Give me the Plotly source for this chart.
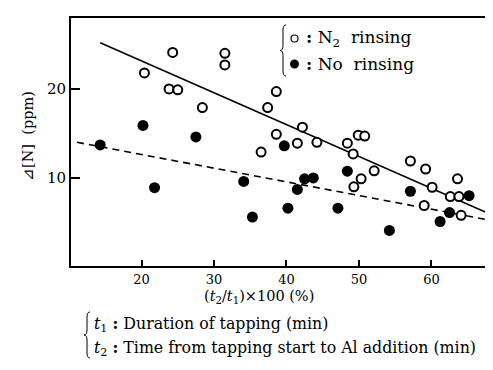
import plotly.graph_objects as go

# ---- data ----
n2_x = [20.4, 24.3, 23.8, 25.0, 28.4, 31.5, 31.5, 36.5, 37.4, 38.6, 38.6, 41.5, 42.2, 44.2,
        48.4, 49.2, 49.3, 49.9, 50.3, 50.8, 52.1, 57.1, 59.0, 59.2, 60.1, 62.6, 63.6, 63.8, 64.1]
n2_y = [21.8, 24.1, 20.0, 19.9, 17.9, 24.0, 22.7, 12.9, 17.9, 19.7, 14.9, 13.9, 15.7, 14.0,
        13.9, 12.7, 9.0, 14.8, 9.9, 14.7, 10.8, 11.9, 6.9, 11.0, 8.95, 7.9, 9.9, 7.9, 5.8]

no_x = [14.3, 20.2, 21.8, 27.5, 34.1, 35.3, 39.7, 40.2, 41.5, 42.5, 43.7, 47.1, 48.4, 54.2,
        57.1, 61.2, 62.5, 65.2]
no_y = [13.7, 15.9, 8.9, 14.6, 9.6, 5.6, 13.6, 6.6, 8.7, 9.9, 10.0, 6.6, 10.75, 4.1,
        8.5, 5.1, 6.1, 8.0]

n2_fit_x = [14.3, 68.7]
n2_fit_y = [25.2, 5.7]
no_fit_x = [11.1, 69.0]
no_fit_y = [14.0, 5.1]

x_ticks = [20, 30, 40, 50, 60]
y_ticks = [10, 20]

# ---- layout geometry (pixels) ----
W, H = 493, 370
ML, MR, MT, MB = 63, 0, 10, 112
PW, PH = W - ML - MR, H - MT - MB
FONT = "DejaVu Serif"


def px(x):
    return (x - ML) / PW


def py(y):
    return (H - MB - y) / PH


def brace(x, y_top, y_bot, w):
    """Left curly brace path in paper coords, from pixel inputs."""
    ym = (y_top + y_bot) / 2
    r = 5
    xm = x + w / 2
    pts = [
        ("M", [(x + w, y_top)]),
        ("Q", [(xm, y_top), (xm, y_top + r)]),
        ("L", [(xm, ym - r)]),
        ("Q", [(xm, ym), (x, ym)]),
        ("Q", [(xm, ym), (xm, ym + r)]),
        ("L", [(xm, y_bot - r)]),
        ("Q", [(xm, y_bot), (x + w, y_bot)]),
    ]
    s = ""
    for cmd, ps in pts:
        s += cmd + " " + " ".join(f"{px(a):.5f},{py(b):.5f}" for a, b in ps) + " "
    return s.strip()


fig = go.Figure()

fig.add_trace(go.Scatter(x=n2_fit_x, y=n2_fit_y, mode="lines",
                         line=dict(color="black", width=1.6), showlegend=False))
fig.add_trace(go.Scatter(x=no_fit_x, y=no_fit_y, mode="lines",
                         line=dict(color="black", width=1.6, dash="7px,5px"), showlegend=False))
fig.add_trace(go.Scatter(x=n2_x, y=n2_y, mode="markers",
                         marker=dict(symbol="circle", size=9, color="white",
                                     line=dict(color="black", width=2)),
                         showlegend=False))
fig.add_trace(go.Scatter(x=no_x, y=no_y, mode="markers",
                         marker=dict(symbol="circle", size=11, color="black",
                                     line=dict(color="black", width=0)),
                         showlegend=False))

shapes = []
# legend brace + markers
shapes.append(dict(type="path", xref="paper", yref="paper", path=brace(272, 17, 68, 6),
                   line=dict(color="black", width=1)))
shapes.append(dict(type="circle", xref="paper", yref="paper",
                   x0=px(283), x1=px(290), y0=py(34), y1=py(27),
                   line=dict(color="black", width=1.2), fillcolor="white"))
shapes.append(dict(type="circle", xref="paper", yref="paper",
                   x0=px(282), x1=px(291), y0=py(60.5), y1=py(51.5),
                   line=dict(color="black", width=0), fillcolor="black"))
# footnote brace
shapes.append(dict(type="path", xref="paper", yref="paper", path=brace(76, 304, 350, 6),
                   line=dict(color="black", width=1)))

annotations = [
    dict(x=px(296), y=py(30), xref="paper", yref="paper", xanchor="left", yanchor="middle",
         text="<b>:</b> N<sub>2</sub>  rinsing", showarrow=False,
         font=dict(family=FONT, size=17, color="black")),
    dict(x=px(296), y=py(56), xref="paper", yref="paper", xanchor="left", yanchor="middle",
         text="<b>:</b> No  rinsing", showarrow=False,
         font=dict(family=FONT, size=17, color="black")),
    dict(x=px(251), y=py(289), xref="paper", yref="paper", xanchor="center", yanchor="middle",
         text="(<i>t</i><sub>2</sub>/<i>t</i><sub>1</sub>)×100 (%)", showarrow=False,
         font=dict(family=FONT, size=14.5, color="black")),
    dict(x=px(20), y=py(128), xref="paper", yref="paper", xanchor="center", yanchor="middle",
         text="⊿[N]  (ppm)", textangle=-90, showarrow=False,
         font=dict(family=FONT, size=14.5, color="black")),
    dict(x=px(84), y=py(316), xref="paper", yref="paper", xanchor="left", yanchor="middle",
         text="<i>t</i><sub>1</sub> <b>:</b> Duration of tapping (min)", showarrow=False,
         font=dict(family=FONT, size=15.8, color="black")),
    dict(x=px(84), y=py(340), xref="paper", yref="paper", xanchor="left", yanchor="middle",
         text="<i>t</i><sub>2</sub> <b>:</b> Time from tapping start to Al addition (min)",
         showarrow=False, font=dict(family=FONT, size=15.8, color="black")),
]

fig.update_layout(
    width=W, height=H,
    margin=dict(l=ML, r=MR, t=MT, b=MB, pad=0),
    paper_bgcolor="white", plot_bgcolor="white",
    showlegend=False,
    shapes=shapes, annotations=annotations,
    xaxis=dict(range=[10.27, 69.6], tickvals=x_ticks, ticks="inside", ticklen=6, tickwidth=1.5,
               tickcolor="black", showline=True, linecolor="black", linewidth=2, mirror=True,
               showgrid=False, zeroline=False,
               tickfont=dict(family=FONT, size=13, color="black")),
    yaxis=dict(range=[0.1, 27.97], tickvals=y_ticks, ticks="inside", ticklen=9, tickwidth=2,
               tickcolor="black", showline=True, linecolor="black", linewidth=2, mirror=False,
               showgrid=False, zeroline=False,
               tickfont=dict(family=FONT, size=15, color="black")),
)

fig.write_html("out.html")
